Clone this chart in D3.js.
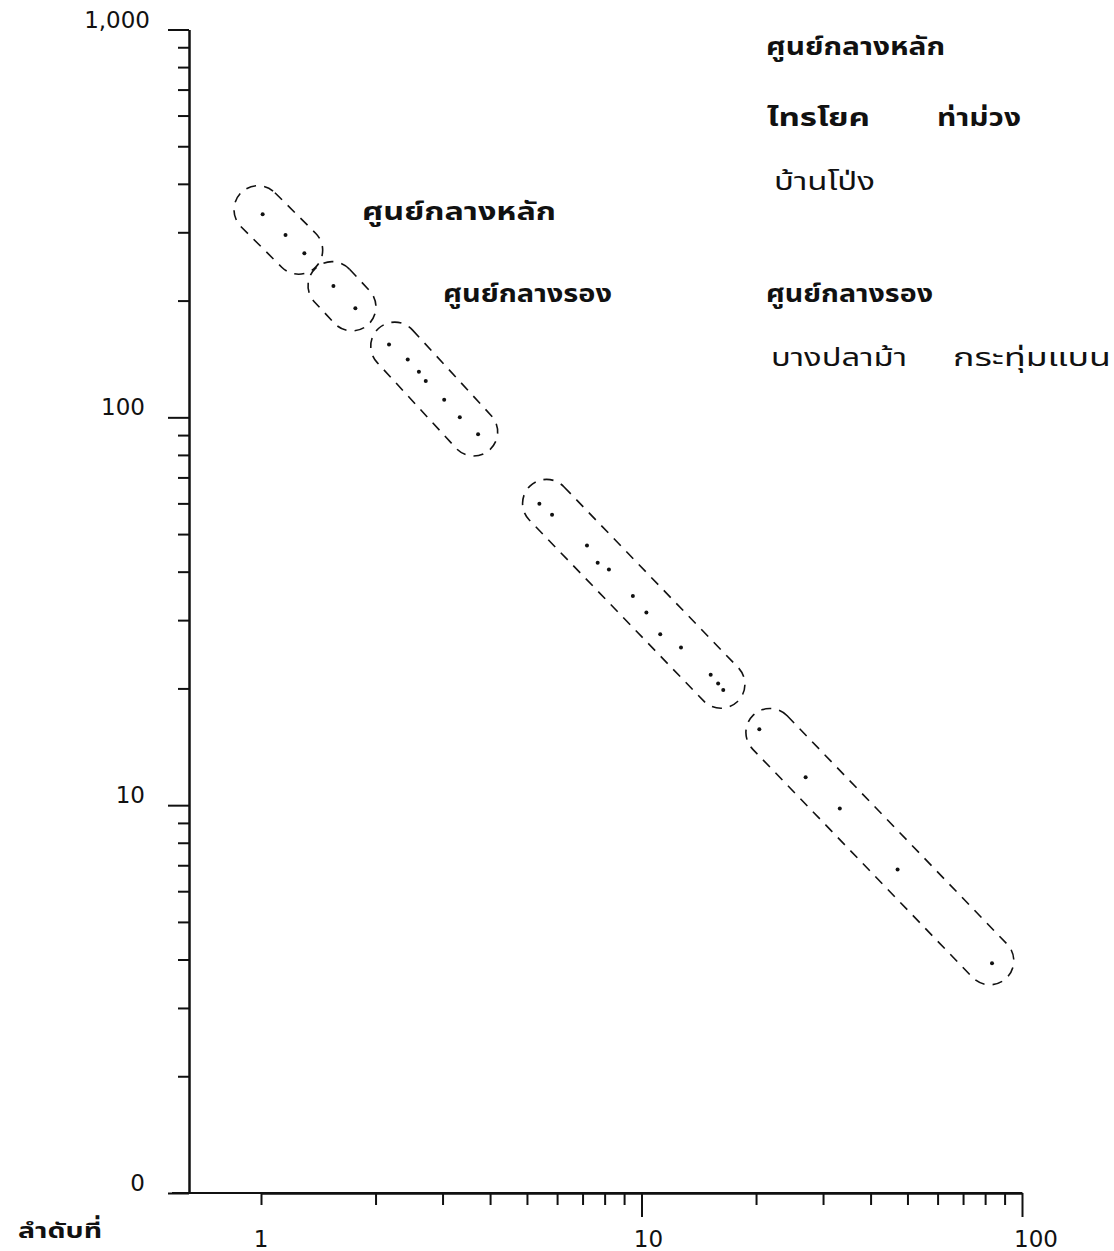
<!DOCTYPE html>
<html><head><meta charset="utf-8">
<script src="https://cdn.jsdelivr.net/npm/d3@7"></script>
<style>body{margin:0;background:#fff} svg{display:block}</style>
</head><body>
<svg id="c" width="1114" height="1251"></svg>
<script>
// rank (x) and size (y) of each centre
const ranks = [1.01, 1.16, 1.30, 1.55, 1.77, 2.17, 2.43, 2.60, 2.71, 3.03, 3.33, 3.72,
  5.39, 5.82, 7.19, 7.67, 8.21, 9.49, 10.3, 11.2, 12.7, 15.2, 15.9, 16.4,
  20.4, 27.0, 33.2, 47.1, 83.4];
const sizes = [334, 295, 265, 218, 191, 154, 141, 131, 124, 111, 100, 90.5,
  59.9, 56.1, 46.7, 42.2, 40.5, 34.6, 31.4, 27.6, 25.5, 21.7, 20.6, 19.8,
  15.7, 11.8, 9.8, 6.83, 3.91];
// dashed enclosures: start and end of each group (rank, size)
const capStartRank = [0.982, 1.537, 2.246, 5.63, 21.75];
const capStartSize = [343, 218.6, 152.6, 60.0, 15.4];
const capEndRank   = [1.256, 1.734, 3.622, 16.17, 82.3];
const capEndSize   = [269.7, 192.6, 91.7, 20.5, 3.97];
const yTicks = [1, 10, 100, 1000];
const yTickLabels = ["0", "10", "100", "1,000"];
const xTicks = [1, 10, 100];
const xTickLabels = ["1", "10", "100"];
const xTitle = "ลำดับที่";
const midLabels = ["ศูนย์กลางหลัก", "ศูนย์กลางรอง"];
const mainTitle = "ศูนย์กลางหลัก";
const mainNames = ["ไทรโยค", "ท่าม่วง", "บ้านโป่ง"];
const secTitle = "ศูนย์กลางรอง";
const secNames = ["บางปลาม้า", "กระทุ่มแบน"];

const svg = d3.select("#c");
const x = d3.scaleLog().domain([1, 100]).range([261, 1022]);
const y = d3.scaleLog().domain([1, 1000]).range([1193, 29.5]);
const axX = 189, axY = 1193;
const numFont = "'DejaVu Sans', sans-serif";
const thaiFont = "'Noto Sans Thai', 'Noto Sans Thai Looped', Loma, Garuda, 'Noto Sans', sans-serif";

function styleAxis(g) {
  g.selectAll("path,line").attr("stroke", "#111").attr("stroke-width", 2);
  g.selectAll("text").remove();
}
// y axis
const yMinor = y.ticks().filter(d => !yTicks.includes(d));
svg.append("g").attr("transform", `translate(${axX},0)`)
  .call(d3.axisLeft(y).tickValues(yMinor).tickSize(11).tickSizeOuter(0).tickFormat(""))
  .call(styleAxis);
svg.append("g").attr("transform", `translate(${axX},0)`)
  .call(d3.axisLeft(y).tickValues(yTicks).tickSize(21).tickSizeOuter(0).tickFormat(""))
  .call(styleAxis);
svg.append("g").selectAll("text").data(yTicks).join("text")
  .attr("x", d => d === 1000 ? 150 : 145).attr("y", d => y(d) - 2)
  .attr("text-anchor", "end").attr("font-family", numFont).attr("font-size", 23)
  .attr("fill", "#111").text((d, i) => yTickLabels[i]);

// x axis
const xAll = x.ticks();
const xMinor = xAll.filter(d => d !== 10 && d !== 100);
svg.append("line").attr("x1", 172).attr("x2", x(100)).attr("y1", axY).attr("y2", axY)
  .attr("stroke", "#111").attr("stroke-width", 2);
svg.append("g").attr("transform", `translate(0,${axY})`)
  .call(d3.axisBottom(x).tickValues(xMinor).tickSize(12).tickSizeOuter(0).tickFormat(""))
  .call(styleAxis);
svg.append("g").attr("transform", `translate(0,${axY})`)
  .call(d3.axisBottom(x).tickValues([10, 100]).tickSize(24).tickSizeOuter(0).tickFormat(""))
  .call(styleAxis);
svg.append("g").selectAll("text").data(xTicks).join("text")
  .attr("x", d => x(d) + (d === 1 ? 0 : d === 10 ? 7 : 14)).attr("y", 1247)
  .attr("text-anchor", "middle").attr("font-family", numFont).attr("font-size", 23)
  .attr("fill", "#111").text((d, i) => xTickLabels[i]);

// enclosures
const R = 24;
capStartRank.forEach((r0, i) => {
  const x1 = x(r0), y1 = y(capStartSize[i]), x2 = x(capEndRank[i]), y2 = y(capEndSize[i]);
  const len = Math.hypot(x2 - x1, y2 - y1);
  const ang = Math.atan2(y2 - y1, x2 - x1) * 180 / Math.PI;
  svg.append("rect")
    .attr("x", -R).attr("y", -R).attr("width", len + 2 * R).attr("height", 2 * R)
    .attr("rx", R).attr("ry", R)
    .attr("transform", `translate(${x1},${y1}) rotate(${ang})`)
    .attr("fill", "none").attr("stroke", "#111").attr("stroke-width", 1.6)
    .attr("stroke-dasharray", "10,8");
});

// points
svg.append("g").selectAll("circle").data(ranks).join("circle")
  .attr("cx", (d) => x(d)).attr("cy", (d, i) => y(sizes[i])).attr("r", 2).attr("fill", "#111");

// Thai labels
function tlabel(t, px, py, w, bold, fs) {
  svg.append("text").attr("x", px).attr("y", py)
    .attr("font-family", thaiFont).attr("font-size", fs || 24)
    .attr("font-weight", bold ? 700 : 400).attr("fill", "#111")
    .attr("textLength", w).attr("lengthAdjust", "spacingAndGlyphs").text(t);
}
tlabel(midLabels[0], 362, 220, 194, true);
tlabel(midLabels[1], 443, 302, 169, true);
tlabel(mainTitle, 766, 55, 179, true);
tlabel(mainNames[0], 767, 126, 103, true);
tlabel(mainNames[1], 937, 126, 84, true);
tlabel(mainNames[2], 774, 190, 101, false);
tlabel(secTitle, 766, 302, 167, true);
tlabel(secNames[0], 771, 366, 136, false);
tlabel(secNames[1], 953, 366, 158, false);
tlabel(xTitle, 18, 1238, 84, true, 22);
</script>
</body></html>
